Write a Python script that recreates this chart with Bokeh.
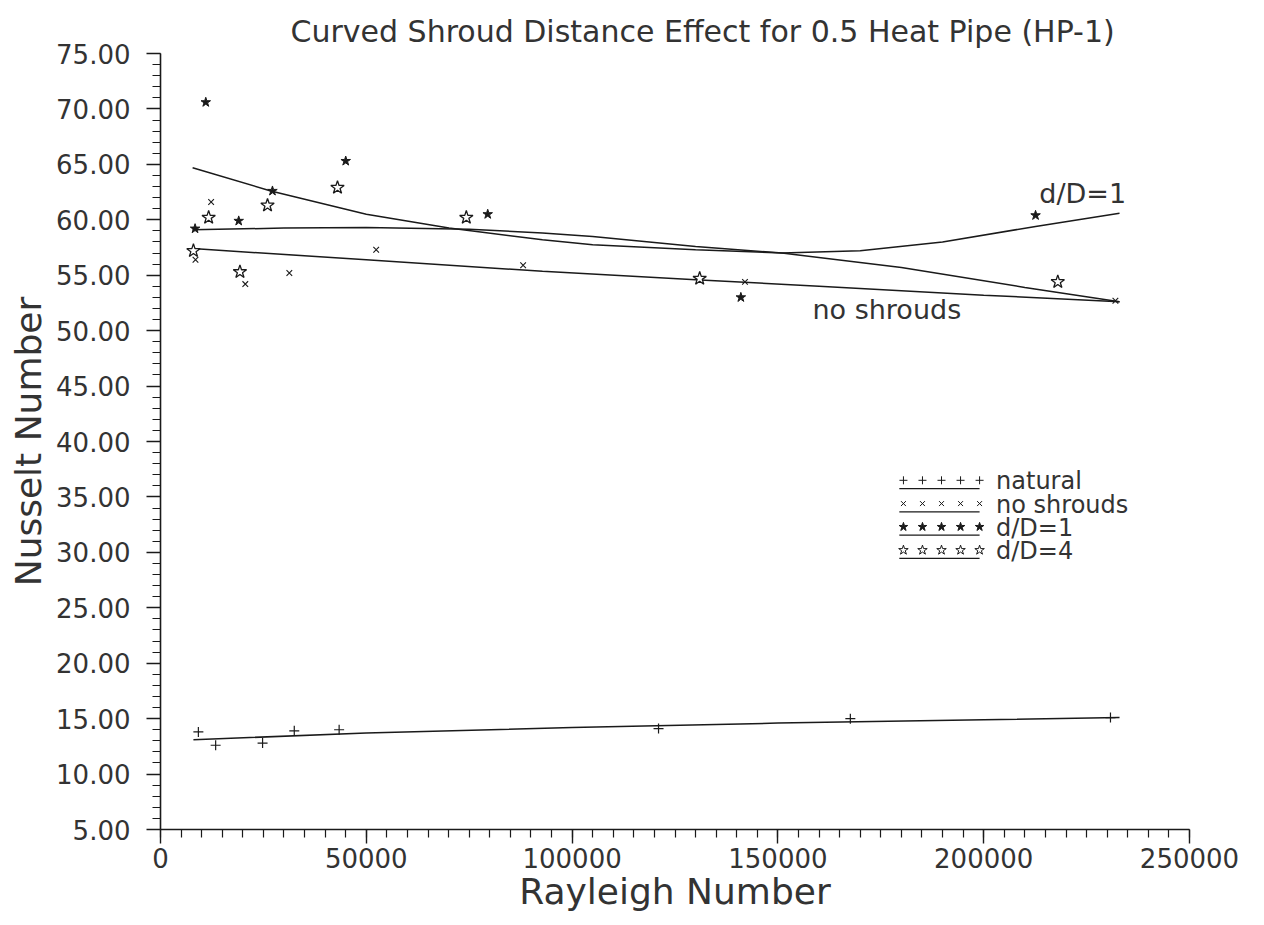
import numpy as np
from bokeh.plotting import figure
from bokeh.models import Range1d, FixedTicker, PrintfTickFormatter
from bokeh.embed import file_html
from bokeh.resources import INLINE
from bokeh.core.properties import value

FONT = "DejaVu Sans"
INK = "#1a1a1a"
TXT = "#333333"

# ---------------- data ----------------
x_ticks = [0, 50000, 100000, 150000, 200000, 250000]
y_ticks = [5, 10, 15, 20, 25, 30, 35, 40, 45, 50, 55, 60, 65, 70, 75]

natural_ra = [9200, 13400, 24800, 32500, 43400, 121000, 167600, 230800]
natural_nu = [13.8, 12.6, 12.8, 13.9, 14.0, 14.1, 15.0, 15.1]

noshroud_ra = [8500, 12300, 20600, 31300, 52400, 88100, 142000, 232000]
noshroud_nu = [56.4, 61.6, 54.2, 55.2, 57.3, 55.9, 54.4, 52.7]

d1_ra = [8400, 11000, 19000, 27200, 45000, 79500, 141000, 212600]
d1_nu = [59.2, 70.6, 59.9, 62.6, 65.3, 60.5, 53.0, 60.4]

d4_ra = [8000, 11700, 19300, 26000, 43000, 74300, 131000, 218000]
d4_nu = [57.2, 60.2, 55.3, 61.3, 62.9, 60.2, 54.7, 54.4]

# fitted curves
fit_nat_ra = [8000, 50000, 100000, 150000, 200000, 233000]
fit_nat_nu = [13.1, 13.7, 14.2, 14.6, 14.9, 15.1]

fit_ns_ra = [7800, 50000, 92800, 130000, 160000, 200000, 233000]
fit_ns_nu = [57.4, 56.4, 55.35, 54.6, 54.0, 53.2, 52.6]

fit_d1_ra = [7800, 30000, 50000, 75000, 92800, 105000, 130000, 151000, 170000, 190000, 212600, 233000]
fit_d1_nu = [59.1, 59.25, 59.3, 59.15, 58.8, 58.5, 57.6, 57.0, 57.2, 58.0, 59.4, 60.6]

fit_d4_ra = [7800, 26800, 50000, 70100, 92800, 105000, 130000, 151000, 180000, 210000, 233000]
fit_d4_nu = [64.7, 62.6, 60.5, 59.25, 58.2, 57.75, 57.3, 57.0, 55.7, 53.9, 52.6]

legend_labels = ["natural", "no shrouds", "d/D=1", "d/D=4"]
legend_nu = [36.5, 34.4, 32.3, 30.2]

# ---------------- figure ----------------
p = figure(frame_width=1029, frame_height=776,
           min_border_left=160, min_border_right=59,
           min_border_top=53, min_border_bottom=78,
           x_range=Range1d(0, 250000), y_range=Range1d(5, 75),
           output_backend="svg", toolbar_location=None)
p.outline_line_color = None
p.xgrid.visible = False
p.ygrid.visible = False
p.background_fill_color = "white"
p.border_fill_color = "white"

p.title.text = "Curved Shroud Distance Effect for 0.5 Heat Pipe (HP-1)"
p.title.text_font = FONT
p.title.text_font_size = "30px"
p.title.text_font_style = "normal"
p.title.text_color = TXT
p.title.align = "left"
p.title.offset = 130
p.title.standoff = 10

for ax in (p.xaxis[0], p.yaxis[0]):
    ax.axis_line_width = 1.6
    ax.axis_line_color = INK
    ax.major_tick_line_color = INK
    ax.minor_tick_line_color = INK
    ax.major_tick_line_width = 1.4
    ax.minor_tick_line_width = 1.2
    ax.major_tick_in = 0
    ax.minor_tick_in = 0
    ax.major_tick_out = 14
    ax.minor_tick_out = 8
    ax.major_label_text_font = FONT
    ax.major_label_text_font_size = "26px"
    ax.major_label_text_color = TXT
    ax.axis_label_text_font = FONT
    ax.axis_label_text_font_size = "36px"
    ax.axis_label_text_font_style = "normal"
    ax.axis_label_text_color = TXT

p.xaxis.ticker = FixedTicker(ticks=x_ticks, minor_ticks=list(range(0, 250001, 5000)))
p.xaxis.formatter = PrintfTickFormatter(format="%d")
p.xaxis.axis_label = "Rayleigh Number"
p.xaxis.major_label_standoff = 4
p.xaxis.axis_label_standoff = 0

p.yaxis.ticker = FixedTicker(ticks=y_ticks, minor_ticks=list(range(5, 76)))
p.yaxis.formatter = PrintfTickFormatter(format="%.2f")
p.yaxis.axis_label = "Nusselt Number"
p.yaxis.major_label_standoff = 16
p.yaxis.axis_label_standoff = 4

# fitted lines
for rx, ny in ((fit_nat_ra, fit_nat_nu), (fit_ns_ra, fit_ns_nu),
               (fit_d1_ra, fit_d1_nu), (fit_d4_ra, fit_d4_nu)):
    p.line(rx, ny, line_color=INK, line_width=1.5)

# data points
p.scatter(natural_ra, natural_nu, marker="cross", size=10, line_color=INK, line_width=1.2)
p.scatter(noshroud_ra, noshroud_nu, marker="x", size=8, line_color=INK, line_width=1.1)
p.scatter(d1_ra, d1_nu, marker="star", size=10, fill_color=INK, line_color=INK, line_width=1)
p.scatter(d4_ra, d4_nu, marker="star", size=14, fill_color="white", line_color=INK, line_width=1.3)

# curve labels
p.text(x=[213500], y=[62.4], text=["d/D=1"], text_font=value(FONT), text_font_size="27px",
       text_color=TXT, text_baseline="middle", text_align="left")
p.text(x=[158400], y=[51.9], text=["no shrouds"], text_font=value(FONT), text_font_size="27px",
       text_color=TXT, text_baseline="middle", text_align="left")

# legend (5 markers over a short line per entry)
leg_x0, leg_x1, leg_tx = 180500, 199000, 203000
leg_marks = [dict(marker="cross", size=8, fill_color=INK),
             dict(marker="x", size=7, fill_color=INK),
             dict(marker="star", size=9, fill_color=INK),
             dict(marker="star", size=10, fill_color="white")]
for lab, ny, mk in zip(legend_labels, legend_nu, leg_marks):
    xs = list(np.linspace(leg_x0, leg_x1, 5))
    p.scatter(xs, [ny] * 5, line_color=INK, line_width=1, **mk)
    p.line([leg_x0 - 1000, leg_x1], [ny - 0.75, ny - 0.75], line_color=INK, line_width=1.3)
    p.text(x=[leg_tx], y=[ny - 0.1], text=[lab], text_font=value(FONT), text_font_size="24px",
           text_color=TXT, text_baseline="middle", text_align="left")

open("out.html", "w").write(file_html(p, INLINE))
